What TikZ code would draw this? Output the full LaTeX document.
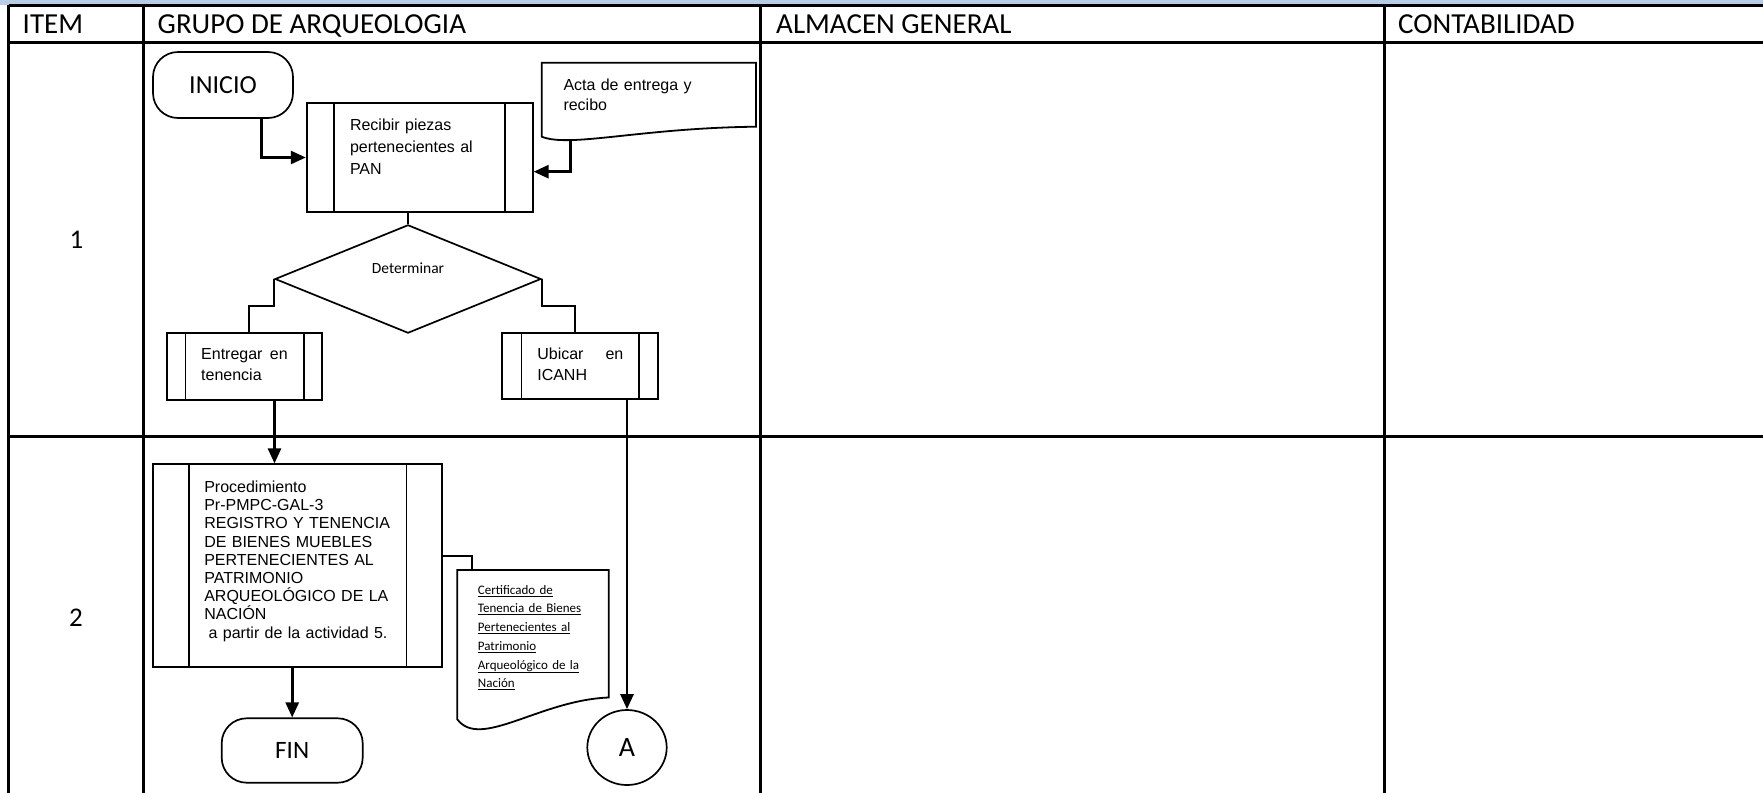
\documentclass[tikz,border=0pt]{standalone}
\usepackage{fontspec}
\setmainfont{Carlito}
\newfontfamily\arialf{Liberation Sans}
\usetikzlibrary{shapes.geometric,arrows.meta}
\definecolor{bandblue}{RGB}{184,204,228}

\begin{document}
\begin{tikzpicture}[x=1pt,y=-1pt,>={Triangle[length=15pt,width=13pt]},
  grid/.style={line width=2.2pt},
  hdr/.style={anchor=base west,inner sep=0pt,font=\fontsize{29}{34}\selectfont},
  term/.style={draw,line width=1.7pt,rounded corners=25pt,inner sep=0pt},
  subproc/.style={draw,line width=1.8pt,inner sep=0pt,align=left,
    font=\arialf\fontsize{16}{21}\selectfont,
    path picture={\draw[line width=1.8pt]
      ([xshift=#1]path picture bounding box.north west) -- ([xshift=#1]path picture bounding box.south west)
      ([xshift=-#1]path picture bounding box.north east) -- ([xshift=-#1]path picture bounding box.south east);}},
  doctext/.style={anchor=base west,inner sep=0pt,align=left},
  link/.style={line width=1.8pt},
  flow/.style={line width=2.6pt,->}]
  \useasboundingbox (0,0) rectangle (1763,793);
  \fill[bandblue] (0,0) rectangle (1763,5);
  \draw[line width=2.5pt] (8.5,5.5) -- (1763,5.5);
  \draw[line width=3pt] (8.5,42.5) -- (1763,42.5);
  \draw[grid] (8.5,436.5) -- (1763,436.5);
  \foreach \x in {8.5,143.5,760.5,1384.5} \draw[grid] (\x,5) -- (\x,793);
  \node[hdr] (h-item) at (22.5,33.5) {ITEM};
  \node[hdr] (h-grupo) at (157.5,33.5) {GRUPO DE ARQUEOLOGIA};
  \node[hdr] (h-almacen) at (776,33.5) {ALMACEN GENERAL};
  \node[hdr] (h-conta) at (1398,33.5) {CONTABILIDAD};
  \node[font=\fontsize{27}{30}\selectfont] (item1) at (76.5,239.5) {1};
  \node[font=\fontsize{27}{30}\selectfont] (item2) at (76,618) {2};

  \node[term,minimum width=140pt,minimum height=66pt,font=\fontsize{26}{30}\selectfont] (inicio) at (223,85) {INICIO};
  \node[subproc=27.5pt,minimum width=226pt,minimum height=109.6pt,text width=139.4pt,
    text height=28pt,text depth=81.6pt,font=\arialf\fontsize{16}{21.7}\selectfont] (recibir) at (419.7,157.5)
    {Recibir piezas\\pertenecientes al\\PAN};
  \draw[link] (541.7,136.7) -- (541.7,62.7) -- (756,62.7) -- (756,126.7)
    .. controls (640,128) and (570,148) .. cycle;
  \node[doctext,text width=170pt,font=\arialf\fontsize{16}{20}\selectfont] (acta) at (563.3,90.7) {Acta de entrega y\\recibo};
  \coordinate (acta-out) at (570.7,139.5);
  \draw[flow] ([xshift=38.7pt]inicio.south) |- (recibir.west);
  \draw[flow] (acta-out) |- ([yshift=-14.2pt]recibir.east);

  \node[diamond,draw,line width=1.7pt,inner sep=0pt,minimum width=266pt,minimum height=108.3pt,
    font=\fontsize{15.5}{18}\selectfont,text height=10pt,text depth=21.4pt] (dec) at (408,279) {Determinar};
  \draw[link] (dec.north |- recibir.south) -- (dec.north);
  \node[subproc=18.7pt,minimum width=155.6pt,minimum height=66.7pt,text width=86.6pt,
    text height=26.4pt,text depth=40.3pt] (entregar) at (244.5,366.7) {Entregar\hfill en\\tenencia};
  \node[subproc=19.2pt,minimum width=156pt,minimum height=66pt,text width=86pt,
    text height=25.7pt,text depth=40.3pt] (ubicar) at (580.3,366.3) {Ubicar\hfill en\\ICANH};
  \draw[link] (dec.west) -- ++(0,27) -| ([xshift=4.5pt]entregar.north);
  \draw[link] (dec.east) -- ++(0,27) -| ([xshift=-5.3pt]ubicar.north);

  \node[subproc=35.3pt,minimum width=288.4pt,minimum height=202.4pt,text width=186.4pt,
    text height=28.1pt,text depth=174.3pt,font=\arialf\fontsize{16}{18.2}\selectfont] (proc) at (297.5,565.5)
    {Procedimiento\\Pr-PMPC-GAL-3\\REGISTRO Y TENENCIA\\DE BIENES MUEBLES\\PERTENECIENTES AL\\PATRIMONIO\\ARQUEOLÓGICO DE LA\\NACIÓN\\\hspace*{4.4pt}a partir de la actividad 5.};
  \draw[flow] ([xshift=30pt]entregar.south) -- ([xshift=30pt]entregar.south |- proc.north);
  \node[term,minimum width=141pt,minimum height=64.4pt,font=\fontsize{25}{30}\selectfont] (fin) at (292.2,750.5) {FIN};
  \draw[flow] (proc.south -| fin.north) -- (fin.north);

  \draw[link] (457.3,719.3) -- (457.3,570) -- (608.8,570) -- (608.8,697.5)
    .. controls (540,700) and (480,750) .. cycle;
  \coordinate (cert-in) at (472,570);
  \draw[link] ([yshift=9.5pt]proc.east) -| (cert-in);
  \node[doctext,text width=125pt,font=\fontsize{13}{18.7}\selectfont] (cert) at (477.7,594.2)
    {\underline{Certificado de}\\\underline{Tenencia de Bienes}\\\underline{Pertenecientes al}\\\underline{Patrimonio}\\\underline{Arqueológico de la}\\\underline{Nación}};

  \node[ellipse,draw,line width=1.7pt,minimum width=79.4pt,minimum height=75pt,inner sep=0pt,
    font=\fontsize{28}{30}\selectfont] (conA) at (627,747.5) {A};
  \draw[flow] (ubicar.south -| conA.north) -- (conA.north);
\end{tikzpicture}
\end{document}
